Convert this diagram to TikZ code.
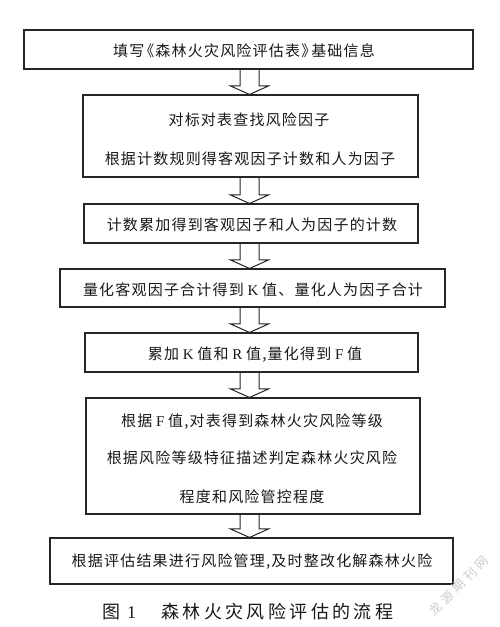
\documentclass[tikz,border=0pt]{standalone}
\usepackage{fontspec}
\setmainfont{Liberation Serif}
\newfontfamily\cjk[LetterSpace=8]{Noto Sans CJK SC}
\newfontfamily\capcjk[LetterSpace=19]{Noto Sans CJK SC}
\newfontfamily\wmcjk[LetterSpace=30]{Noto Sans CJK SC}
\newfontfamily\lat{Liberation Serif}
\usetikzlibrary{calc}
\tikzset{
  box/.style={draw=black!85, line width=1.1pt, inner sep=0pt},
  txt/.style={inner sep=0pt, font=\fontsize{15}{18}\selectfont\cjk, text=black!90},
  arr/.style={draw=black!85, line width=1pt, line join=miter},
  captxt/.style={inner sep=0pt, font=\fontsize{18}{20}\selectfont\capcjk, text=black!90},
  wm/.style={inner sep=0pt, font=\fontsize{12.5}{13}\selectfont\wmcjk, text=black!20, rotate=45}
}
\newcommand\blkarrow[2]{%
  \draw[arr] ($(#1.south -| ax)+(-9.5,0)$) -- ($(#2.north -| ax)+(-9.5,-8.5)$) -- ++(-9.5,0)
    -- (#2.north -| ax) -- ($(#2.north -| ax)+(19,-8.5)$) -- ++(-9.5,0)
    -- ($(#1.south -| ax)+(9.5,0)$);}
\begin{document}
\begin{tikzpicture}[x=1pt,y=-1pt]
\useasboundingbox (0,0) rectangle (500,627);
\fill[white] (0,0) rectangle (500,627);
\coordinate (ax) at (249.5,0);
% boxes
\node[box, minimum width=449pt, minimum height=39pt] (b1) at (248.5,49.5) {};
\node[box, minimum width=335pt, minimum height=82pt] (b2) at (250.5,136) {};
\node[box, minimum width=334pt, minimum height=39pt] (b3) at (251,223.5) {};
\node[box, minimum width=385pt, minimum height=38pt] (b4) at (252.5,288) {};
\node[box, minimum width=333pt, minimum height=39pt] (b5) at (251.5,352.5) {};
\node[box, minimum width=334pt, minimum height=116pt] (b6) at (253,456) {};
\node[box, minimum width=403pt, minimum height=46pt] (b7) at (251.5,561) {};
% texts
\node[txt] (t1) at (244,51) {填写\hspace{-5pt}《森林火灾风险评估表》\hspace{-5pt}基础信息};
\node[txt] (t2a) at (249,120) {对标对表查找风险因子};
\node[txt] (t2b) at (250,159) {根据计数规则得客观因子计数和人为因子};
\node[txt] (t3) at (252,225) {计数累加得到客观因子和人为因子的计数};
\node[txt] (t4) at (253,290) {量化客观因子合计得到{\lat~K~}值、量化人为因子合计};
\node[txt] (t5) at (255,355) {累加{\lat~K~}值和{\lat~R~}值,量化得到{\lat~F~}值};
\node[txt] (t6a) at (252,422) {根据{\lat~F~}值,对表得到森林火灾风险等级};
\node[txt] (t6b) at (252,458) {根据风险等级特征描述判定森林火灾风险};
\node[txt] (t6c) at (252,497) {程度和风险管控程度};
\node[txt] (t7) at (252,562) {根据评估结果进行风险管理,及时整改化解森林火险};
% arrows
\blkarrow{b1}{b2}
\blkarrow{b2}{b3}
\blkarrow{b3}{b4}
\blkarrow{b4}{b5}
\blkarrow{b5}{b6}
\blkarrow{b6}{b7}
% caption
\node[captxt, anchor=west] (cap1) at (102,612) {图\hspace{7pt}{\lat 1}};
\node[captxt, anchor=west] (cap2) at (161,612) {森林火灾风险评估的流程};
\node[wm] (wm) at (459,586) {龙源期刊网};
\end{tikzpicture}
\end{document}
